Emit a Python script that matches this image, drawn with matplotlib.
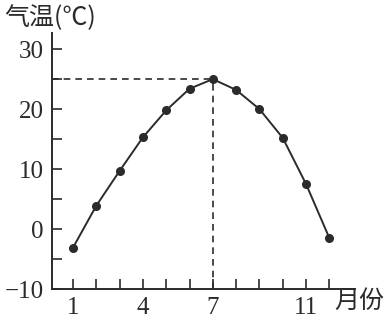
import matplotlib
matplotlib.use("Agg")
import matplotlib.pyplot as plt
from matplotlib.ticker import FixedLocator

months = [1, 2, 3, 4, 5, 6, 7, 8, 9, 10, 11, 12]
temps = [-3.1, 3.9, 9.7, 15.3, 19.8, 23.4, 25.0, 23.2, 20.0, 15.2, 7.5, -1.5]
xtick_labels = {1: "1", 4: "4", 7: "7", 11: "11"}
ytick_labels = {-10: "\u221210", 0: "0", 10: "10", 20: "20", 30: "30"}
y_minor = [-5, 5, 15, 25]
peak_month = 7
peak_temp = 25

num_font = ["Liberation Serif", "Noto Sans CJK SC"]
cjk_font = ["Noto Sans CJK SC", "DejaVu Sans"]
ink = "#2b2b2b"

fig = plt.figure(figsize=(3.91, 3.23), dpi=100)
ax = fig.add_axes([0.133, 0.105, 0.775, 0.793])

ax.plot(months, temps, color=ink, lw=1.4, marker="o", ms=5.5,
        mfc=ink, mec=ink, zorder=3)

ax.plot([0.1, peak_month], [peak_temp, peak_temp], color=ink, lw=1.2,
        ls=(0, (4, 3)), zorder=2)
ax.plot([peak_month, peak_month], [-10, peak_temp], color=ink, lw=1.2,
        ls=(0, (4, 3)), zorder=2)

ax.set_xlim(0.1, 13.1)
ax.set_ylim(-10, 32.7)

for s in ["top", "right"]:
    ax.spines[s].set_visible(False)
for s in ["left", "bottom"]:
    ax.spines[s].set_color(ink)
    ax.spines[s].set_linewidth(1.4)

ax.xaxis.set_major_locator(FixedLocator(list(xtick_labels.keys())))
ax.set_xticklabels(list(xtick_labels.values()))
ax.xaxis.set_minor_locator(FixedLocator(months))
ax.yaxis.set_major_locator(FixedLocator(list(ytick_labels.keys())))
ax.set_yticklabels(list(ytick_labels.values()))
ax.yaxis.set_minor_locator(FixedLocator(y_minor))

ax.tick_params(which="both", direction="in", color=ink, width=1.2)
ax.tick_params(which="major", length=7, labelsize=18, pad=6, labelcolor=ink)
ax.tick_params(which="minor", length=7)
for lab in ax.get_xticklabels() + ax.get_yticklabels():
    lab.set_family(num_font)

fig.text(0.012, 0.985, "气温(℃)", family=cjk_font, fontsize=18,
         color=ink, va="top", ha="left")
fig.text(0.855, 0.068, "月份", family=cjk_font, fontsize=18,
         color=ink, va="center", ha="left")

fig.savefig("out.png", dpi=100)
